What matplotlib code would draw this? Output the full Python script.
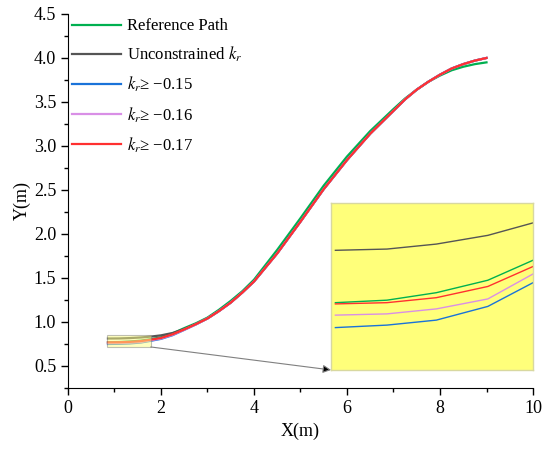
import numpy as np
import matplotlib
matplotlib.use("Agg")
import matplotlib.pyplot as plt
from matplotlib.patches import Rectangle

plt.rcParams['font.family'] = ['Liberation Serif', 'DejaVu Serif']
plt.rcParams['mathtext.fontset'] = 'stix'

x = [0.86, 1.1, 1.33, 1.57, 1.78, 2.0, 2.25, 2.5, 2.75, 3.0, 3.25, 3.5, 3.75, 4.0,
     4.5, 5.0, 5.5, 6.0, 6.5, 7.0, 7.25, 7.5, 7.75, 8.0, 8.25, 8.5, 8.75, 9.0]
y_ref = [0.770, 0.772, 0.778, 0.788, 0.804, 0.825, 0.87, 0.93, 0.985, 1.05, 1.14,
         1.24, 1.35, 1.48, 1.82, 2.18, 2.55, 2.88, 3.17, 3.42, 3.54, 3.64, 3.73,
         3.80, 3.86, 3.90, 3.93, 3.95]
y_free = [0.812, 0.813, 0.817, 0.824, 0.834, 0.848, 0.875, 0.92, 0.975, 1.04, 1.125,
          1.22, 1.335, 1.46, 1.78, 2.14, 2.51, 2.84, 3.14, 3.40, 3.53, 3.64, 3.73,
          3.81, 3.88, 3.93, 3.97, 4.00]
y_015 = [0.750, 0.752, 0.756, 0.767, 0.786, 0.808, 0.85, 0.91, 0.972, 1.04, 1.125,
         1.22, 1.335, 1.46, 1.78, 2.14, 2.51, 2.84, 3.14, 3.40, 3.53, 3.64, 3.73,
         3.81, 3.88, 3.93, 3.97, 4.00]
y_016 = [0.760, 0.761, 0.765, 0.773, 0.793, 0.813, 0.855, 0.912, 0.973, 1.04, 1.125,
         1.22, 1.335, 1.46, 1.78, 2.14, 2.51, 2.84, 3.14, 3.40, 3.53, 3.64, 3.73,
         3.81, 3.88, 3.93, 3.97, 4.00]
y_017 = [0.769, 0.770, 0.774, 0.783, 0.799, 0.818, 0.86, 0.915, 0.975, 1.04, 1.125,
         1.22, 1.335, 1.46, 1.78, 2.14, 2.51, 2.84, 3.14, 3.40, 3.53, 3.64, 3.73,
         3.81, 3.88, 3.93, 3.97, 4.00]

series = [
    (y_ref, '#00b050', 'Reference Path'),
    (y_free, '#555555', 'Unconstrained $k_r$'),
    (y_015, '#1a73d9', '$k_r$≥ −0.15'),
    (y_016, '#d98fe6', '$k_r$≥ −0.16'),
    (y_017, '#ff3030', '$k_r$≥ −0.17'),
]

fig = plt.figure(figsize=(5.5, 4.49), dpi=100)
ax = fig.add_axes([0.1236, 0.1359, 0.8455, 0.833])

for ys, c, lab in series:
    ax.plot(x, ys, color=c, lw=1.6, label=lab)

ax.set_xlim(0, 10)
ax.set_ylim(0.25, 4.5)
ax.set_xticks(np.arange(0, 11, 2))
ax.set_xticks(np.arange(1, 10, 2), minor=True)
ax.set_yticks(np.arange(0.5, 4.51, 0.5))
ax.set_yticks(np.arange(0.25, 4.5, 0.5), minor=True)
ax.tick_params(which='major', direction='out', length=5, width=1, labelsize=13)
ax.tick_params(which='minor', direction='out', length=3, width=1)
ax.spines['top'].set_visible(False)
ax.spines['right'].set_visible(False)
ax.set_xlabel('X(m)', fontsize=13)
ax.set_ylabel('Y(m)', fontsize=13, labelpad=2)

ax.legend(loc='upper left', bbox_to_anchor=(-0.012, 1.015), frameon=False, fontsize=12,
          handlelength=2.9, handletextpad=0.35, labelspacing=0.64, borderaxespad=0.2)

# zoom box
zx0, zx1, zy0, zy1 = 0.84, 1.78, 0.716, 0.85
ax.add_patch(Rectangle((zx0, zy0), zx1 - zx0, zy1 - zy0, facecolor='#ffff80',
                       alpha=0.5, edgecolor='gray', lw=0.8, zorder=3))

# inset
ins = fig.add_axes([0.602, 0.176, 0.367, 0.372])
ins.set_facecolor('#ffff7a')
for ys, c, lab in series:
    ins.plot(x, ys, color=c, lw=1.0)
ins.set_xlim(zx0, zx1)
ins.set_ylim(zy0, zy1)
ins.set_xticks([])
ins.set_yticks([])
for s in ins.spines.values():
    s.set_color('#d8d8a0')
    s.set_linewidth(1.0)

# arrow from zoom box to inset
ax.annotate('', xy=(0.602, 0.176), xycoords='figure fraction',
            xytext=(zx1, zy0), textcoords='data',
            arrowprops=dict(arrowstyle='-|>', color='gray', lw=0.8,
                            mutation_scale=12, shrinkA=0, shrinkB=0, fc='black', ec='gray'))

fig.savefig('out.png', dpi=100)
